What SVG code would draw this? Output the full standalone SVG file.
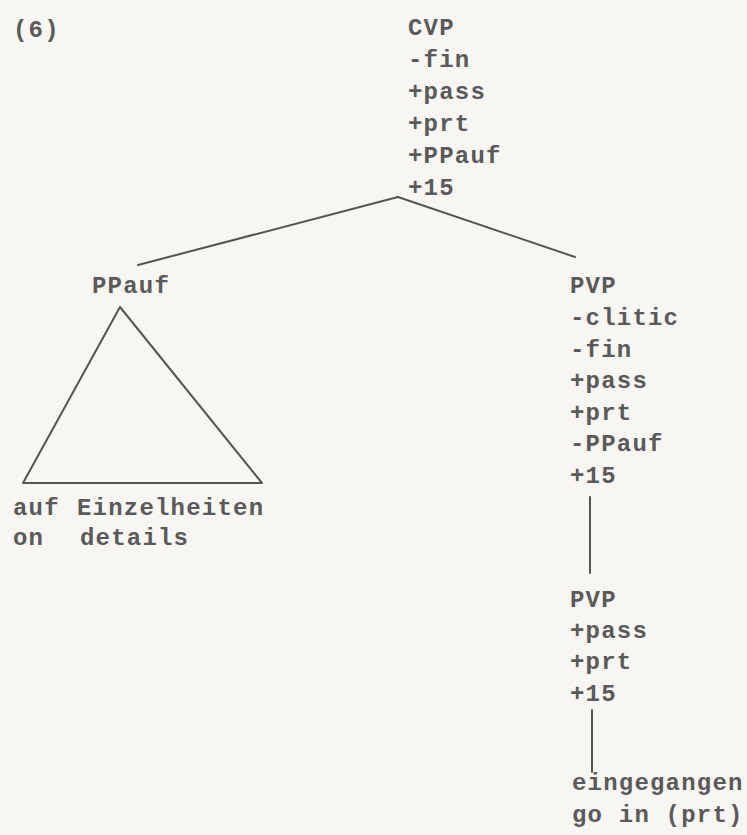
<svg xmlns="http://www.w3.org/2000/svg" width="747" height="835" viewBox="0 0 747 835">
<style>
.t{font-family:"Liberation Mono","DejaVu Sans Mono",monospace;font-size:24px;font-weight:bold;letter-spacing:1.2px;fill:#5a5a5a}
.c{stroke:#555;stroke-width:2;fill:none;stroke-linecap:round}
</style>
<rect width="747" height="835" fill="#f7f6f2"/>
<text class="t" x="13" y="37">(6)</text>
<g id="connectors">
<line class="c" x1="398" y1="197" x2="138" y2="265"/>
<line class="c" x1="398" y1="197" x2="575" y2="257"/>
<line class="c" x1="590" y1="497" x2="590" y2="573"/>
<line class="c" x1="592" y1="710" x2="592" y2="772"/>
</g>
<g id="node-CVP">
<text class="t" x="408" y="35">CVP</text>
<text class="t" x="408" y="67">-fin</text>
<text class="t" x="408" y="99">+pass</text>
<text class="t" x="408" y="131">+prt</text>
<text class="t" x="408" y="163">+PPauf</text>
<text class="t" x="408" y="195">+15</text>
</g>
<g id="node-PPauf">
<text class="t" x="92" y="293">PPauf</text>
<polygon class="c" points="120,307 23,483 262,483" stroke-linejoin="round"/>
<text class="t" x="13" y="515">auf</text>
<text class="t" x="77" y="515">Einzelheiten</text>
<text class="t" x="13" y="545">on</text>
<text class="t" x="80" y="545">details</text>
</g>
<g id="node-PVP1">
<text class="t" x="570" y="293">PVP</text>
<text class="t" x="570" y="325">-clitic</text>
<text class="t" x="570" y="357">-fin</text>
<text class="t" x="570" y="388">+pass</text>
<text class="t" x="570" y="420">+prt</text>
<text class="t" x="570" y="451">-PPauf</text>
<text class="t" x="570" y="483">+15</text>
</g>
<g id="node-PVP2">
<text class="t" x="570" y="607">PVP</text>
<text class="t" x="570" y="638">+pass</text>
<text class="t" x="570" y="669">+prt</text>
<text class="t" x="570" y="701">+15</text>
</g>
<g id="node-leaf">
<text class="t" x="572" y="790">eingegangen</text>
<text class="t" x="572" y="822">go in (prt)</text>
</g>
</svg>
